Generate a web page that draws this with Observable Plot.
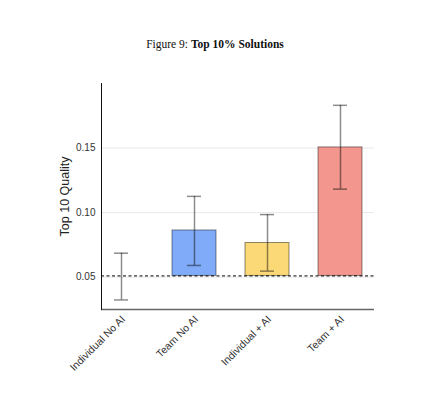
<!DOCTYPE html>
<html>
<head>
<meta charset="utf-8">
<script src="https://cdn.jsdelivr.net/npm/d3@7"></script>
<script src="https://cdn.jsdelivr.net/npm/@observablehq/plot@0.6"></script>
<style>
  html, body { margin: 0; padding: 0; background: #fff; }
  #wrap { width: 447px; height: 398px; position: relative; }
  #title { height: 70px; box-sizing: border-box; padding-top: 37px; padding-right: 17px; text-align: center;
           font-family: "Liberation Serif", "DejaVu Serif", serif; font-size: 11.5px; line-height: 14px; color: #111; }
  #title b { font-weight: bold; }
</style>
</head>
<body>
<div id="wrap">
  <div id="title">Figure 9: <b>Top 10% Solutions</b></div>
  <div id="chart"></div>
</div>
<script>
const categories = ["Individual No AI", "Team No AI", "Individual + AI", "Team + AI"];
const means = [0.051, 0.0862, 0.0765, 0.1505];
const lower = [0.0324, 0.0591, 0.0547, 0.1182];
const upper = [0.0686, 0.1126, 0.0985, 0.1831];
const colors = ["#ffffff", "#80abf8", "#fcd977", "#f2968e"];
const yTicks = [0.05, 0.10, 0.15];
const yLabel = "Top 10 Quality";

const baseline = means[0];
const data = categories.map((c, i) => ({cat: c, mean: means[i], lo: lower[i], hi: upper[i], color: colors[i]}));

const chart = Plot.plot({
  width: 447,
  height: 328,
  marginLeft: 101,
  marginRight: 73,
  marginTop: 13,
  marginBottom: 89,
  style: {fontFamily: "'Liberation Sans', Arial, sans-serif", fontSize: "10px", background: "#fff", color: "#222"},
  x: {domain: categories, range: [99, 362], paddingInner: 0.4, paddingOuter: 0, axis: null},
  y: {domain: [0.025, 0.2], axis: null},
  marks: [
    Plot.gridY(yTicks, {stroke: "#e8e8e8", strokeOpacity: 1}),
    Plot.barY(data.filter(d => d.mean !== baseline), {
      x: "cat", y1: () => baseline, y2: "mean", fill: d => d.color,
      stroke: "#000", strokeOpacity: 0.45, strokeWidth: 1
    }),
    Plot.ruleY([baseline], {stroke: "#000", strokeDasharray: "3,2.5", strokeWidth: 1}),
    Plot.ruleX(data, {x: "cat", y1: "lo", y2: "hi", stroke: "#000", strokeOpacity: 0.45, strokeWidth: 1.5}),
    Plot.tickY(data, {x: "cat", y: "lo", stroke: "#000", strokeOpacity: 0.45, strokeWidth: 1.5, insetLeft: 15, insetRight: 15}),
    Plot.tickY(data, {x: "cat", y: "hi", stroke: "#000", strokeOpacity: 0.45, strokeWidth: 1.5, insetLeft: 15, insetRight: 15}),
    Plot.axisY(yTicks, {tickSize: 0, tickPadding: 6, tickFormat: d3.format(".2f"), label: null, fontSize: 10, fill: "#333"}),
    Plot.axisX({tickSize: 0, tickPadding: 8, dx: 2, tickRotate: -45, label: null, fontSize: 10.5, fill: "#333"}),
    Plot.text([yLabel], {frameAnchor: "left", textAnchor: "middle", dx: -37, rotate: -90, fontSize: 12.5, fill: "#222"}),
    Plot.ruleY([0.025], {stroke: "#666", strokeWidth: 1.5}),
    Plot.frame({anchor: "left", stroke: "#111", strokeWidth: 1})
  ]
});
document.getElementById("chart").appendChild(chart);
</script>
</body>
</html>
